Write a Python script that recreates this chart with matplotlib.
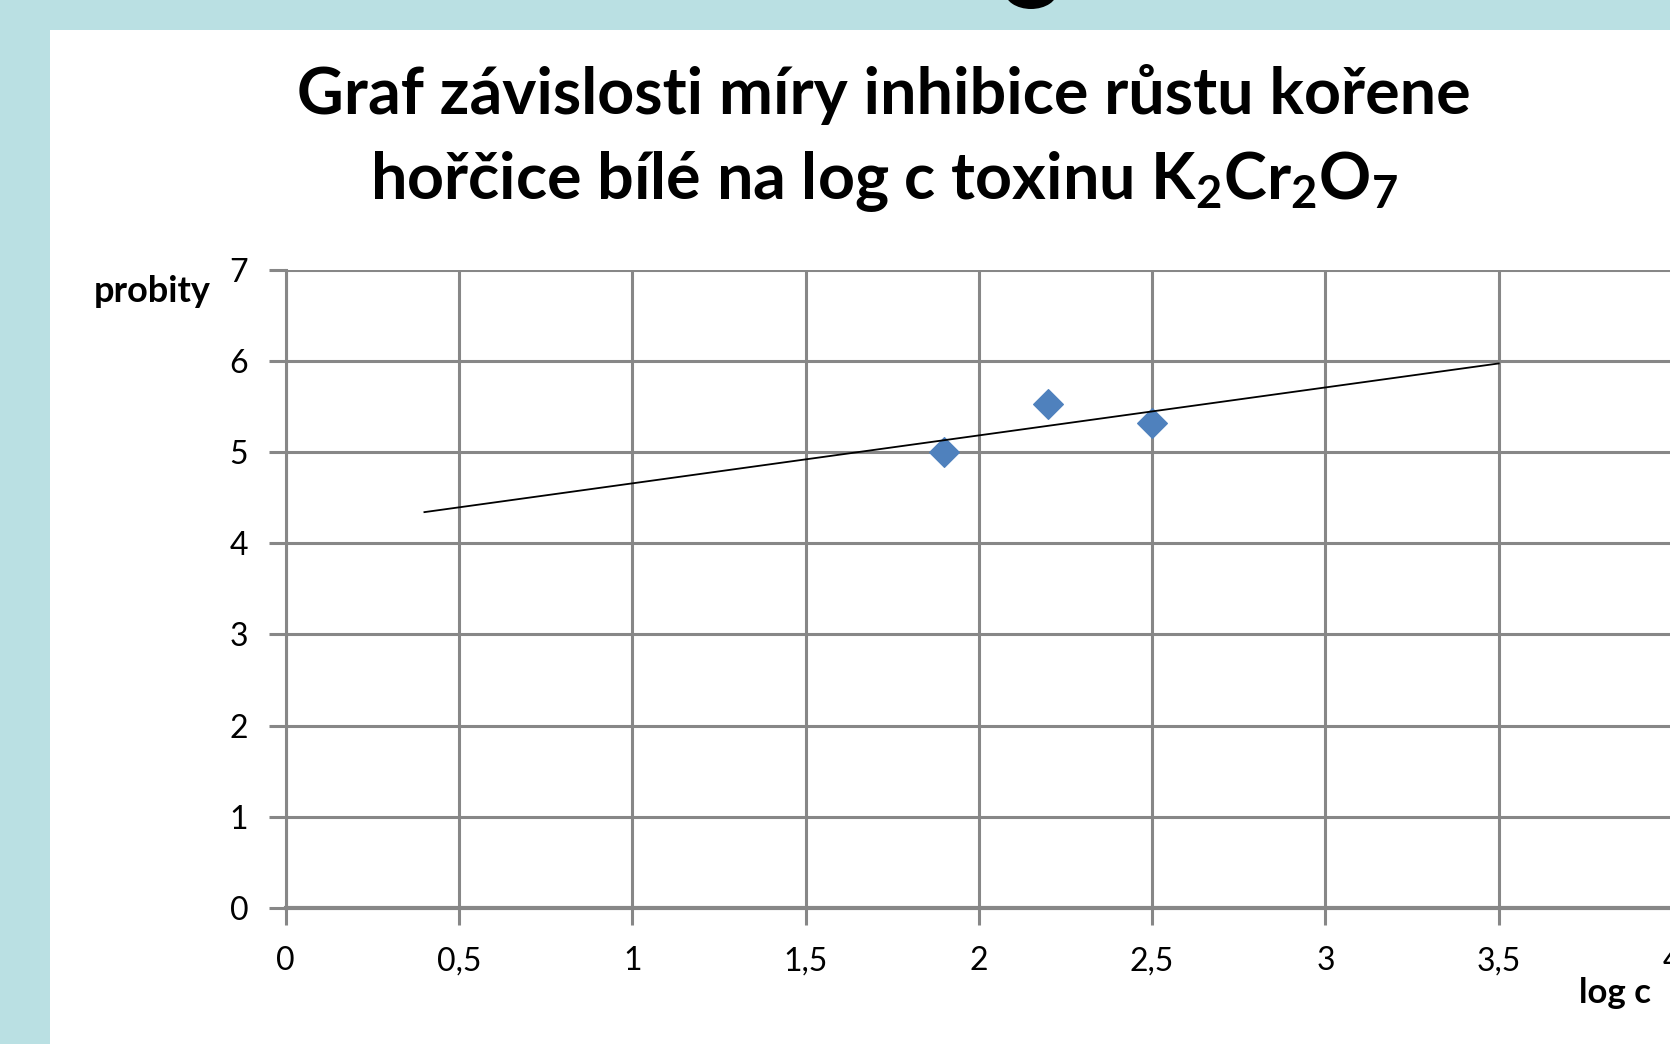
import matplotlib
matplotlib.use("Agg")
import matplotlib.pyplot as plt
from matplotlib.patches import Rectangle, Ellipse

# ---- data ----
log_c = [1.9, 2.2, 2.5]
probity = [5.0, 5.52, 5.32]
trend_x = [0.4, 3.5]
trend_y = [4.34, 5.97]
xticks = [0, 0.5, 1, 1.5, 2, 2.5, 3, 3.5, 4]
xtick_labels = ["0", "0,5", "1", "1,5", "2", "2,5", "3", "3,5", "4"]
yticks = [0, 1, 2, 3, 4, 5, 6, 7]
ytick_labels = ["0", "1", "2", "3", "4", "5", "6", "7"]
title_line1 = "Graf závislosti míry inhibice růstu kořene"
title_line2 = "hořčice bílé na log c toxinu $K_2Cr_2O_7$"
x_title = "log c"
y_title = "probity"

plt.rcParams['font.family'] = ['Lato', 'DejaVu Sans']
plt.rcParams['mathtext.fontset'] = 'custom'
plt.rcParams['mathtext.bf'] = 'Lato:bold'
plt.rcParams['mathtext.rm'] = 'Lato:bold'
plt.rcParams['mathtext.default'] = 'bf'

W, H = 1670, 1044
fig = plt.figure(figsize=(W / 100, H / 100), dpi=100)
fig.patch.set_facecolor('#BAE0E3')

def fx(px):
    return px / W

def fy(py):
    return 1 - py / H

# white chart area
fig.patches.append(Rectangle((fx(50), 0), 1, fy(30), transform=fig.transFigure,
                             facecolor='white', edgecolor='none', zorder=-10))
# fragment of a cut-off glyph at the top
fig.patches.append(Ellipse((fx(1031), fy(-9)), 53 / W, 36 / H, transform=fig.transFigure,
                           facecolor='black', edgecolor='none', zorder=-9))

grid_c = '#878787'
ax = fig.add_axes([fx(285.8), fy(908), (1672 - 285.8) / W, (908 - 269.5) / H])
ax.set_facecolor('none')
ax.set_xlim(0, 4)
ax.set_ylim(0, 7)
ax.set_xticks(xticks)
ax.set_xticklabels(xtick_labels)
ax.set_yticks(yticks)
ax.set_yticklabels(ytick_labels)
ax.grid(True, color=grid_c, linewidth=2.2, zorder=1)
ax.set_axisbelow(True)
for s in ['top', 'right']:
    ax.spines[s].set_visible(False)
ax.spines['left'].set_color(grid_c)
ax.spines['left'].set_linewidth(2.2)
ax.spines['bottom'].set_color(grid_c)
ax.spines['bottom'].set_linewidth(3.0)
ax.tick_params(axis='both', direction='out', length=12, width=2.2, color=grid_c,
               labelsize=23, labelcolor='black')
ax.tick_params(axis='x', pad=15.5)
ax.tick_params(axis='y', pad=15)

ax.plot(log_c, probity, linestyle='none', marker='D', markersize=15.5,
        color='#4F81BD', markeredgewidth=0.8, zorder=3, clip_on=False)
ax.plot(trend_x, trend_y, color='black', linewidth=1.3, zorder=4)

fig.text(fx(884), fy(114), title_line1, ha='center', va='baseline',
         fontsize=46.5, fontweight='bold')
fig.text(fx(884), fy(199), title_line2, ha='center', va='baseline',
         fontsize=46.5, fontweight='bold')
fig.text(fx(94), fy(302), y_title, ha='left', va='baseline', fontsize=26, fontweight='bold')
fig.text(fx(1579), fy(1003), x_title, ha='left', va='baseline', fontsize=25, fontweight='bold')

fig.savefig('out.png', dpi=100, facecolor=fig.get_facecolor())
